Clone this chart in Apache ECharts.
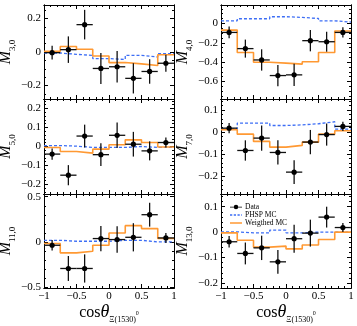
<!DOCTYPE html>
<html>
<head>
<meta charset="utf-8">
<script src="https://cdn.jsdelivr.net/npm/echarts@6/dist/echarts.min.js"></script>
<style>
html, body { margin: 0; padding: 0; background: #fff; }
#main { width: 357px; height: 326px; }
</style>
</head>
<body>
<div id="main"></div>
<script>
// bins in cos(theta)
var binEdges = [-1, -0.75, -0.5, -0.25, 0, 0.25, 0.5, 0.75, 1];
var binCenters = [-0.875, -0.625, -0.375, -0.125, 0.125, 0.375, 0.625, 0.875];
var xTicks = [-1, -0.5, 0, 0.5, 1];

// M_{3,0}
var m30Data = [-0.004, 0.014, 0.163, -0.098, -0.088, -0.157, -0.116, -0.067];
var m30Err = [0.041, 0.079, 0.088, 0.092, 0.094, 0.090, 0.073, 0.051];
var m30Weighted = [0.004, 0.033, 0.016, -0.024, -0.063, -0.071, -0.080, -0.016];
var m30Phsp = [-0.006, -0.014, -0.020, -0.039, -0.045, -0.020, -0.030, -0.010];
var m30Ticks = [-0.2, 0, 0.2];

// M_{4,0}
var m40Data = [-0.093, -0.260, -0.377, -0.538, -0.531, -0.178, -0.189, -0.093];
var m40Err = [0.060, 0.093, 0.110, 0.110, 0.115, 0.110, 0.103, 0.053];
var m40Weighted = [-0.069, -0.300, -0.400, -0.410, -0.420, -0.395, -0.300, -0.079];
var m40Phsp = [0.027, 0.048, 0.048, 0.069, 0.062, 0.051, 0.027, 0.014];
var m40Ticks = [-0.6, -0.4, -0.2, 0];

// M_{5,0}
var m50Data = [-0.040, -0.151, 0.055, -0.043, 0.059, 0.012, -0.023, 0.021];
var m50Err = [0.030, 0.053, 0.060, 0.060, 0.067, 0.065, 0.050, 0.026];
var m50Weighted = [-0.005, -0.026, -0.035, -0.014, 0.009, 0.035, 0.021, -0.003];
var m50Phsp = [0.005, 0.002, -0.005, -0.005, -0.005, 0.000, -0.005, -0.005];
var m50Ticks = [-0.2, -0.1, 0, 0.1, 0.2];

// M_{7,0}
var m70Data = [0.018, -0.083, -0.027, -0.092, -0.181, -0.045, -0.011, 0.026];
var m70Err = [0.023, 0.046, 0.057, 0.055, 0.054, 0.055, 0.050, 0.021];
var m70Weighted = [0.011, -0.009, -0.042, -0.068, -0.060, -0.045, -0.009, 0.006];
var m70Phsp = [0.014, 0.041, 0.041, 0.030, 0.033, 0.038, 0.047, 0.014];
var m70Ticks = [-0.2, -0.1, 0, 0.1];

// M_{11,0}
var m110Data = [-0.037, -0.294, -0.294, 0.037, 0.026, 0.051, 0.301, 0.044];
var m110Err = [0.057, 0.138, 0.156, 0.140, 0.147, 0.156, 0.132, 0.055];
var m110Weighted = [-0.018, -0.121, -0.103, -0.037, 0.099, 0.180, 0.147, 0.037];
var m110Phsp = [0.018, 0.007, 0.007, 0.007, 0.018, 0.018, 0.000, 0.000];
var m110Ticks = [-0.5, 0, 0.5];

// M_{13,0}
var m130Data = [-0.038, -0.084, -0.062, -0.117, -0.026, -0.004, 0.059, 0.018];
var m130Err = [0.023, 0.043, 0.048, 0.047, 0.055, 0.053, 0.041, 0.018];
var m130Weighted = [-0.003, -0.032, -0.059, -0.055, -0.066, -0.051, -0.029, 0.000];
var m130Phsp = [0.001, -0.003, -0.003, 0.008, -0.003, 0.000, 0.000, 0.000];
var m130Ticks = [-0.2, -0.1, 0, 0.1];

var panels = [
  {sub: '3,0', data: m30Data, err: m30Err, w: m30Weighted, p: m30Phsp, ticks: m30Ticks, min: -0.28, max: 0.28, minor: 0.05, col: 0, row: 0},
  {sub: '4,0', data: m40Data, err: m40Err, w: m40Weighted, p: m40Phsp, ticks: m40Ticks, min: -0.78, max: 0.19, minor: 0.05, col: 1, row: 0},
  {sub: '5,0', data: m50Data, err: m50Err, w: m50Weighted, p: m50Phsp, ticks: m50Ticks, min: -0.25, max: 0.25, minor: 0.02, col: 0, row: 1},
  {sub: '7,0', data: m70Data, err: m70Err, w: m70Weighted, p: m70Phsp, ticks: m70Ticks, min: -0.28, max: 0.15, minor: 0.02, col: 1, row: 1},
  {sub: '11,0', data: m110Data, err: m110Err, w: m110Weighted, p: m110Phsp, ticks: m110Ticks, min: -0.51, max: 0.53, minor: 0.1, col: 0, row: 2},
  {sub: '13,0', data: m130Data, err: m130Err, w: m130Weighted, p: m130Phsp, ticks: m130Ticks, min: -0.22, max: 0.15, minor: 0.02, col: 1, row: 2}
];

var FONT = '"Liberation Serif", "DejaVu Serif", serif';
var colLeft = [44, 221];
var rowTop = [5, 99, 194];
var rowHeight = [94, 95, 94];
var ORANGE = '#ff9933';
var BLUE = '#3d6ef5';

function stepValues(min, max, step) {
  var out = [];
  for (var k = Math.ceil(min / step - 1e-9); k * step <= max + 1e-9; k++) {
    out.push(+(k * step).toFixed(4));
  }
  return out;
}

function fmt(v) {
  return String(+v.toFixed(4)).replace('-', '\u2212');
}

function stepPoints(vals) {
  var pts = [];
  for (var i = 0; i < vals.length; i++) pts.push([binEdges[i], vals[i]]);
  pts.push([binEdges[vals.length], vals[vals.length - 1]]);
  return pts;
}

function renderErr(params, api) {
  var x = api.value(0), y = api.value(1), e = api.value(2);
  var l = api.coord([x - 0.125, y]), r = api.coord([x + 0.125, y]);
  var t = api.coord([x, y + e]), b = api.coord([x, y - e]);
  var c = api.coord([x, y]);
  var st = {stroke: '#111', lineWidth: 1.3};
  return {
    type: 'group',
    children: [
      {type: 'line', shape: {x1: l[0], y1: l[1], x2: r[0], y2: r[1]}, style: st},
      {type: 'line', shape: {x1: t[0], y1: t[1], x2: b[0], y2: b[1]}, style: st},
      {type: 'circle', shape: {cx: c[0], cy: c[1], r: 2.6}, style: {fill: '#000'}}
    ]
  };
}

var grids = [], xAxes = [], yAxes = [], series = [];
var xMinor = stepValues(-1, 1, 0.1);

panels.forEach(function (pn, i) {
  grids.push({
    left: colLeft[pn.col], top: rowTop[pn.row], width: 130, height: rowHeight[pn.row],
    outerBoundsMode: 'none', containLabel: false
  });
  var bottomRow = pn.row === 2;
  var line = {show: true, onZero: false, lineStyle: {color: '#000', width: 1}};
  // x axes: bottom major, top major, bottom minor, top minor
  [['bottom', 4, xTicks, true], ['top', 4, xTicks, false], ['bottom', 2, xMinor, false], ['top', 2, xMinor, false]].forEach(function (a) {
    xAxes.push({
      type: 'value', gridIndex: i, position: a[0], min: -1, max: 1,
      axisLine: line,
      axisTick: {show: true, inside: true, length: a[1], customValues: a[2], lineStyle: {color: '#000'}},
      axisLabel: {
        show: a[3] && bottomRow, customValues: xTicks, formatter: fmt, margin: 3,
        fontFamily: FONT, fontSize: 11, color: '#000'
      },
      splitLine: {show: false},
      name: a[3] && bottomRow ? '{c|cos}{t|\u03b8}{s|\u039e(1530)}{p|0}' : '',
      nameLocation: 'middle', nameGap: 12,
      nameTextStyle: {
        color: '#000', fontFamily: FONT,
        rich: {
          c: {fontSize: 16, fontFamily: FONT, lineHeight: 20, verticalAlign: 'bottom', padding: [0, 0, 3, 0]},
          t: {fontSize: 18, fontFamily: FONT, fontStyle: 'italic', lineHeight: 20, verticalAlign: 'bottom', padding: [0, 0, 3, 0]},
          s: {fontSize: 8, fontFamily: FONT, lineHeight: 10, verticalAlign: 'bottom'},
          p: {fontSize: 6, fontFamily: FONT, lineHeight: 7, verticalAlign: 'bottom', padding: [0, 0, 7, 0]}
        }
      }
    });
  });
  var yMinor = stepValues(pn.min, pn.max, pn.minor);
  [['left', 4, pn.ticks, true], ['right', 4, pn.ticks, false], ['left', 2, yMinor, false], ['right', 2, yMinor, false]].forEach(function (a) {
    yAxes.push({
      type: 'value', gridIndex: i, position: a[0], min: pn.min, max: pn.max,
      axisLine: line,
      axisTick: {show: true, inside: true, length: a[1], customValues: a[2], lineStyle: {color: '#000'}},
      axisLabel: {
        show: a[3], customValues: pn.ticks, formatter: fmt, margin: 3,
        fontFamily: FONT, fontSize: 11, color: '#000'
      },
      splitLine: {show: false},
      name: a[3] ? '{m|M}{s|' + pn.sub + '}' : '',
      nameLocation: 'middle', nameRotate: 90, nameGap: 25,
      nameTextStyle: {
        color: '#000',
        rich: {
          m: {fontSize: 16, fontFamily: FONT, fontStyle: 'italic', lineHeight: 18, verticalAlign: 'bottom', padding: [0, 0, 3, 0]},
          s: {fontSize: 9, fontFamily: FONT, lineHeight: 10, verticalAlign: 'bottom'}
        }
      }
    });
  });

  series.push({
    name: 'PHSP MC', type: 'line', step: 'end', xAxisIndex: 4 * i, yAxisIndex: 4 * i,
    data: stepPoints(pn.p), symbol: 'none', silent: true,
    lineStyle: {color: BLUE, width: 1.3, type: [3, 2]}, itemStyle: {color: BLUE}, z: 2
  });
  series.push({
    name: 'Weigthed MC', type: 'line', step: 'end', xAxisIndex: 4 * i, yAxisIndex: 4 * i,
    data: stepPoints(pn.w), symbol: 'none', silent: true,
    lineStyle: {color: ORANGE, width: 1.6}, itemStyle: {color: ORANGE}, z: 3
  });
  series.push({
    name: 'Data', type: 'custom', xAxisIndex: 4 * i, yAxisIndex: 4 * i,
    renderItem: renderErr, itemStyle: {color: '#000'}, z: 4,
    encode: {x: 0, y: 1},
    data: pn.data.map(function (v, k) { return [binCenters[k], v, pn.err[k]]; })
  });
});

var myChart = echarts.init(document.getElementById('main'), null, {renderer: 'canvas'});
var option = {
  animation: false,
  backgroundColor: '#fff',
  grid: grids,
  xAxis: xAxes,
  yAxis: yAxes,
  legend: {
    left: 225, top: 198, orient: 'vertical', itemGap: 0, itemWidth: 12, itemHeight: 7,
    textStyle: {fontFamily: FONT, fontSize: 7.5, color: '#000', padding: [0, 0, 0, -2]},
    data: [
      {name: 'Data', icon: 'path://M0,4 L16,4 L16,5 L0,5 Z M8,1.5 A3,3 0 1,1 8,7.5 A3,3 0 1,1 8,1.5 Z'},
      {name: 'PHSP MC', icon: 'path://M0,0 L3,0 L3,2 L0,2 Z M5,0 L8,0 L8,2 L5,2 Z M10,0 L13,0 L13,2 L10,2 Z M15,0 L16,0 L16,2 L15,2 Z'},
      {name: 'Weigthed MC', icon: 'path://M0,0 L16,0 L16,2 L0,2 Z'}
    ]
  },
  series: series
};
myChart.setOption(option);
</script>
</body>
</html>
